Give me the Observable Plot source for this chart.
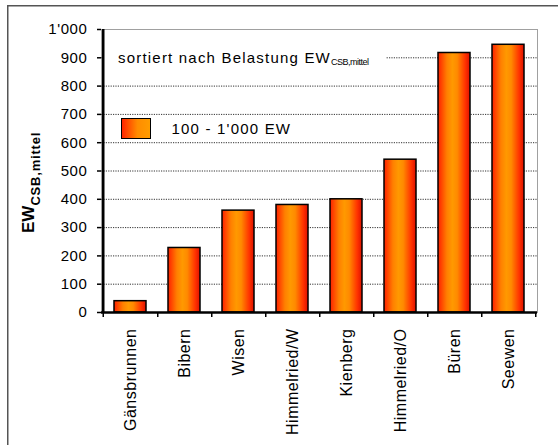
<!DOCTYPE html>
<html>
<head>
<meta charset="utf-8">
<script src="https://cdn.jsdelivr.net/npm/d3@7"></script>
<script src="https://cdn.jsdelivr.net/npm/@observablehq/plot@0.6"></script>
<style>
  html, body { margin: 0; padding: 0; background: #fff; }
  #wrap { position: relative; width: 558px; height: 445px; overflow: hidden; background: #fff; }
  g[aria-label="x-axis tick label"] text { letter-spacing: 0.5px; }
  g[aria-label="y-axis tick label"] text { letter-spacing: 0.6px; }
</style>
</head>
<body>
<div id="wrap"></div>
<script>
// ---- data ----
const categories = ["Gänsbrunnen", "Bibern", "Wisen", "Himmelried/W", "Kienberg", "Himmelried/O", "Büren", "Seewen"];
const values = [40, 228, 360, 380, 400, 540, 917, 946];
const yTicks = [0, 100, 200, 300, 400, 500, 600, 700, 800, 900, 1000];
const gridTicks = [100, 200, 300, 400, 500, 600, 700, 800, 900];
const noteText = "sortiert nach Belastung EW";
const noteSub = "CSB,mittel";
const legendLabel = "100 - 1'000 EW";
const yTitle = "EW";
const yTitleSub = "CSB,mittel";

const data = categories.map((name, i) => ({name, value: values[i]}));

const W = 558, H = 445, mL = 101, mR = 21, mT = 29, mB = 133;
const step = (W - mL - mR) / categories.length;
const fmt = d => d3.format(",")(d).replace(/,/g, "'");

const chart = Plot.plot({
  width: W, height: H,
  marginLeft: mL, marginRight: mR, marginTop: mT, marginBottom: mB,
  style: {fontFamily: "'Liberation Sans', Arial, sans-serif", fontSize: "15px", color: "black", background: "white", overflow: "visible"},
  x: {type: "band", domain: categories, paddingInner: 0.413, paddingOuter: 0.2065},
  y: {domain: [0, 1000]},
  marks: [
    Plot.frame({stroke: "#a0a0a0", strokeWidth: 1}),
    Plot.gridY(gridTicks, {stroke: "#333", strokeOpacity: 1, strokeDasharray: "1.2 1.2", strokeWidth: 1}),
    Plot.barY(data, {x: "name", y: "value", fill: "url(#barGrad)", stroke: "black", strokeWidth: 1.5}),
    Plot.ruleY([0], {stroke: "black", strokeWidth: 2.5}),
    Plot.ruleX([categories[0]], {y1: 0, y2: 1000, dx: -step / 2, stroke: "black", strokeWidth: 2.5}),
    Plot.axisY(yTicks, {tickSize: 4, tickPadding: 10, tickFormat: fmt, fontSize: 15, stroke: "black", strokeWidth: 1.5, label: null}),
    Plot.axisX(categories, {tickSize: 5, tickFormat: () => "", dx: step / 2, stroke: "black", strokeWidth: 1.5, label: null}),
    Plot.axisX([categories[0]], {tickSize: 5, tickFormat: () => "", dx: -step / 2, stroke: "black", strokeWidth: 1.5, label: null}),
    Plot.axisX(categories, {tickSize: 0, tickPadding: 16, tickRotate: -90, fontSize: 16, label: null})
  ]
});

const svg = d3.select(chart);
const defs = svg.insert("defs", ":first-child");
const g1 = defs.append("linearGradient").attr("id", "barGrad").attr("x1", 0).attr("x2", 1).attr("y1", 0).attr("y2", 0);
[[0, "#ff2000"], [0.28, "#ff8000"], [0.45, "#ff9900"], [0.6, "#ff8a00"], [0.85, "#ff3300"], [1, "#dd1000"]]
  .forEach(([o, c]) => g1.append("stop").attr("offset", o).attr("stop-color", c));
const g2 = defs.append("linearGradient").attr("id", "legGrad").attr("x1", 0).attr("x2", 1).attr("y1", 0).attr("y2", 0);
[[0, "#ff2200"], [0.55, "#ff8c00"], [1, "#ff9d00"]]
  .forEach(([o, c]) => g2.append("stop").attr("offset", o).attr("stop-color", c));

// white backing for the note, placed just above the grid lines (below bars and axes)
const grid = chart.querySelector('g[aria-label="y-grid"]');
const bg = document.createElementNS("http://www.w3.org/2000/svg", "rect");
bg.setAttribute("x", 103); bg.setAttribute("y", 46); bg.setAttribute("width", 283); bg.setAttribute("height", 22);
bg.setAttribute("fill", "white");
if (grid) grid.parentNode.insertBefore(bg, grid.nextSibling); else chart.appendChild(bg);

const ann = svg.append("g")
  .attr("font-family", "'Liberation Sans', Arial, sans-serif")
  .attr("fill", "black")
  .attr("text-anchor", "start");

// outer border (top and left edges visible)
ann.append("line").attr("x1", 7).attr("x2", W).attr("y1", 5.75).attr("y2", 5.75).attr("stroke", "#555").attr("stroke-width", 1.5);
ann.append("line").attr("x1", 7.75).attr("x2", 7.75).attr("y1", 5).attr("y2", H).attr("stroke", "#555").attr("stroke-width", 1.5);

// note
const note = ann.append("text").attr("x", 118).attr("y", 63);
note.append("tspan").attr("font-size", 15).style("letter-spacing", "1.2px").text(noteText);
note.append("tspan").attr("font-size", 9).style("letter-spacing", "-0.5px").attr("dy", 2).text(noteSub);

// legend
ann.append("rect").attr("x", 121.5).attr("y", 118.5).attr("width", 29).attr("height", 20)
  .attr("fill", "url(#legGrad)").attr("stroke", "black").attr("stroke-width", 1);
ann.append("text").attr("x", 171.5).attr("y", 134).attr("font-size", 15).style("letter-spacing", "1.2px").text(legendLabel);

// y title
const yt = ann.append("text").attr("transform", "translate(33.5,233) rotate(-90)").attr("font-weight", "bold");
yt.append("tspan").attr("font-size", 17).text(yTitle);
yt.append("tspan").attr("font-size", 13).attr("dy", 6).style("letter-spacing", "0.8px").text(yTitleSub);

document.getElementById("wrap").appendChild(chart);
</script>
</body>
</html>
